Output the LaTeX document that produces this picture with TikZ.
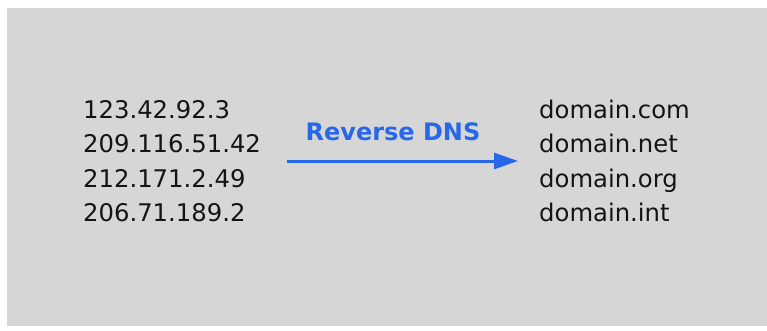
\documentclass[tikz,border=0pt]{standalone}
\usepackage{fontspec}
\setmainfont{DejaVu Sans}
\usetikzlibrary{arrows.meta}
\definecolor{bggray}{RGB}{214,214,214}
\definecolor{dnsblue}{RGB}{38,104,232}
\definecolor{txt}{RGB}{20,20,20}
\begin{document}
\begin{tikzpicture}[x=1pt,y=1pt,
  item/.style={anchor=base west,inner sep=0pt,text=txt,font=\fontsize{24.3}{28}\selectfont},
  lbl/.style={anchor=base,inner sep=0pt,text=dnsblue,font=\fontsize{24}{28}\selectfont\bfseries},
  conn/.style={draw=dnsblue,line width=3pt,-{Triangle[length=24pt,width=16pt]}}]
\useasboundingbox (0,0) rectangle (767,330);
\fill[white] (0,0) rectangle (767,330);
\fill[bggray] (7,4) rectangle (767,322);
\node[item] (ip1) at (83,212) {123.42.92.3};
\node[item] (ip2) at (83,178) {209.116.51.42};
\node[item] (ip3) at (83,143) {212.171.2.49};
\node[item] (ip4) at (83,109) {206.71.189.2};
\node[item] (d1) at (539,212) {domain.com};
\node[item] (d2) at (539,178) {domain.net};
\node[item] (d3) at (539,143) {domain.org};
\node[item] (d4) at (539,109) {domain.int};
\coordinate (as) at (287,169);
\coordinate (ae) at (518,169);
\draw[conn] (as) -- (ae);
\node[lbl] (rdns) at (393,190) {Reverse DNS};
\end{tikzpicture}
\end{document}
